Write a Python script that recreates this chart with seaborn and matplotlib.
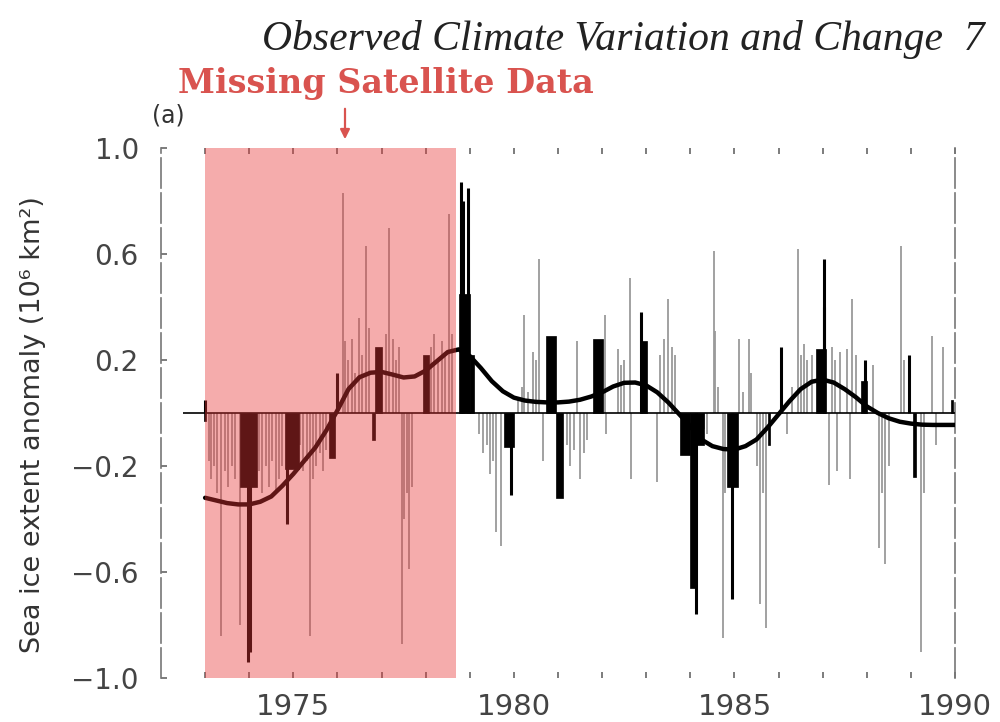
import numpy as np
import matplotlib
matplotlib.use("Agg")
import matplotlib.pyplot as plt
from matplotlib.ticker import FixedLocator
import seaborn as sns

# ---------------- data ----------------
# thin grey anomaly lines (decimal year, anomaly 10^6 km^2)
thin_years = [1973.08, 1973.14, 1973.20, 1973.28, 1973.37, 1973.45, 1973.52, 1973.60, 1973.68, 1973.79,
              1974.22, 1974.30, 1974.38, 1974.45, 1974.52, 1974.60, 1974.68, 1974.75,
              1975.15, 1975.22, 1975.30, 1975.38, 1975.45, 1975.52, 1975.60, 1975.68, 1975.75,
              1976.12, 1976.18, 1976.25, 1976.33, 1976.40, 1976.48, 1976.56, 1976.64, 1976.71,
              1977.09, 1977.17, 1977.25, 1977.33, 1977.40, 1977.47, 1977.52, 1977.58, 1977.62, 1977.70,
              1978.12, 1978.20, 1978.28, 1978.36, 1978.44, 1978.54, 1978.60,
              1979.22, 1979.30, 1979.38, 1979.45, 1979.52, 1979.60, 1979.70,
              1980.10, 1980.18, 1980.24, 1980.32, 1980.43, 1980.50, 1980.57, 1980.66,
              1981.20, 1981.28, 1981.36, 1981.42, 1981.50, 1981.58, 1981.65,
              1982.06, 1982.08, 1982.35, 1982.42, 1982.50, 1982.63, 1982.65,
              1983.24, 1983.32, 1983.40, 1983.50, 1983.58, 1983.65,
              1984.30, 1984.38, 1984.53, 1984.56, 1984.62, 1984.73, 1984.78,
              1985.10, 1985.20, 1985.33, 1985.38, 1985.50, 1985.58, 1985.65, 1985.72,
              1986.20, 1986.30, 1986.43, 1986.50, 1986.58, 1986.65, 1986.75,
              1987.15, 1987.22, 1987.28, 1987.33, 1987.40, 1987.55, 1987.62, 1987.66, 1987.75,
              1988.14, 1988.28, 1988.35, 1988.42, 1988.50, 1988.78, 1988.85,
              1989.24, 1989.30, 1989.47, 1989.58, 1989.73]
thin_anom = [-0.18, -0.25, -0.20, -0.30, -0.84, -0.22, -0.28, -0.20, -0.25, -0.80,
             -0.22, -0.30, -0.20, -0.28, -0.18, -0.30, -0.25, -0.20,
             -0.12, -0.22, -0.18, -0.84, -0.25, -0.20, -0.15, -0.22, -0.14,
             0.83, 0.27, 0.20, 0.28, 0.15, 0.36, 0.22, 0.63, 0.32,
             0.30, 0.70, 0.28, 0.20, 0.25, -0.87, -0.40, -0.30, -0.59, -0.28,
             0.25, 0.30, 0.20, 0.27, 0.22, 0.75, 0.30,
             -0.08, -0.15, -0.12, -0.23, -0.18, -0.45, -0.50,
             0.05, 0.10, 0.37, 0.08, 0.23, 0.20, 0.58, -0.18,
             -0.12, -0.20, -0.14, 0.27, -0.25, -0.15, -0.10,
             0.37, -0.08, 0.24, 0.18, 0.20, 0.51, -0.25,
             -0.26, 0.22, 0.28, 0.43, 0.25, 0.22,
             -0.06, -0.08, 0.61, 0.31, 0.10, -0.85, -0.30,
             0.28, 0.08, 0.28, 0.15, -0.20, -0.72, -0.30, -0.81,
             -0.08, 0.10, 0.62, 0.22, 0.26, 0.20, 0.22,
             -0.27, 0.25, 0.20, -0.22, 0.23, 0.24, -0.25, 0.43, 0.22,
             0.18, -0.51, -0.30, -0.57, -0.20, 0.63, 0.20,
             -0.90, -0.30, 0.29, -0.12, 0.25]

# solid black anomaly blocks (start year, end year, anomaly)
block_start = [1972.97, 1973.79, 1974.82, 1975.80, 1976.79, 1976.86, 1977.93, 1978.76, 1979.00,
               1979.78, 1980.73, 1980.96, 1981.80, 1982.86, 1983.77, 1984.00, 1984.15,
               1984.84, 1985.75, 1986.85, 1987.87, 1989.05, 1989.90]
block_end = [1973.03, 1974.17, 1975.12, 1975.95, 1976.86, 1977.02, 1978.08, 1979.00, 1979.10,
             1980.01, 1980.96, 1981.11, 1982.03, 1983.01, 1984.00, 1984.15, 1984.30,
             1985.07, 1985.80, 1987.07, 1988.00, 1989.12, 1989.95]
block_anom = [-0.03, -0.28, -0.21, -0.17, -0.10, 0.25, 0.22, 0.45, 0.22,
              -0.13, 0.29, -0.32, 0.28, 0.27, -0.16, -0.66, -0.12,
              -0.28, -0.12, 0.24, 0.12, -0.24, 0.05]

# isolated black peaks
peak_years = [1973.00, 1973.98, 1974.02, 1974.85, 1976.00, 1978.80, 1978.85, 1978.97, 1979.94,
              1982.88, 1984.12, 1984.95, 1986.05, 1987.02, 1987.04, 1987.95, 1988.95]
peak_anom = [0.05, -0.94, -0.90, -0.42, 0.15, 0.87, 0.80, 0.85, -0.31,
             0.38, -0.76, -0.70, 0.25, 0.40, 0.58, 0.20, 0.22]

# smoothed curve, quarterly
curve_years = np.arange(1973.0, 1990.01, 0.25)
curve_anom = [-0.32, -0.33, -0.34, -0.345, -0.345, -0.335, -0.315, -0.275,
              -0.23, -0.18, -0.13, -0.065, 0.01, 0.09, 0.135, 0.152,
              0.155, 0.145, 0.134, 0.138, 0.16, 0.195, 0.23, 0.24,
              0.215, 0.17, 0.12, 0.082, 0.058, 0.047, 0.042, 0.04,
              0.04, 0.043, 0.05, 0.062, 0.078, 0.10, 0.114, 0.115,
              0.104, 0.078, 0.04, -0.005, -0.05, -0.10, -0.125, -0.136,
              -0.138, -0.125, -0.10, -0.055, -0.005, 0.045, 0.09, 0.118,
              0.126, 0.115, 0.09, 0.06, 0.025, 0.0, -0.02, -0.033,
              -0.04, -0.044, -0.045, -0.045, -0.045]

missing_span = [1973.0, 1978.68]
ytick_vals = [1.0, 0.6, 0.2, -0.2, -0.6, -1.0]
ytick_text = ["1.0", "0.6", "0.2", "\u22120.2", "\u22120.6", "\u22121.0"]
xtick_vals = [1975, 1980, 1985, 1990]
xtick_text = ["1975", "1980", "1985", "1990"]

# ---------------- figure ----------------
sns.set_style("white")
plt.rcParams["font.family"] = ["DejaVu Sans"]

fig = plt.figure(figsize=(10, 7.22), dpi=100)
ax = fig.add_axes([0.161, 1 - 678 / 722, 0.794, 530 / 722])

ax.vlines(thin_years, 0, thin_anom, color="#9a9a9a", lw=1.3, zorder=2)
ax.bar(block_start, block_anom, width=np.array(block_end) - np.array(block_start),
       align="edge", color="black", edgecolor="black", lw=0.5, zorder=3)
ax.vlines(peak_years, 0, peak_anom, color="black", lw=2.2, zorder=3)
ax.hlines(0, 1972.5, 1990, color="black", lw=1.2, zorder=3)
sns.lineplot(x=curve_years, y=curve_anom, ax=ax, color="black", lw=3.2, zorder=4)

ax.axvspan(missing_span[0], missing_span[1], ymin=0, ymax=1,
           color=(232 / 255, 54 / 255, 54 / 255), alpha=0.41, lw=0, zorder=6)

ax.set_xlim(1972, 1990)
ax.set_ylim(-1.0, 1.0)
ax.set_xticks(xtick_vals)
ax.set_xticklabels(xtick_text)
ax.xaxis.set_minor_locator(FixedLocator(np.arange(1973, 1990)))
ax.set_yticks(ytick_vals)
ax.set_yticklabels(ytick_text)

for s in ["top", "bottom"]:
    ax.spines[s].set_visible(False)
for s in ["left", "right"]:
    ax.spines[s].set_color("#777777")
    ax.spines[s].set_linewidth(1.2)
    ax.spines[s].set_linestyle((0, (18, 3)))

ax.tick_params(axis="x", which="both", direction="in", top=True, bottom=True,
               length=4, width=1.2, color="#666666", pad=11,
               labelsize=21, labelcolor="#444444")
ax.tick_params(axis="y", which="both", direction="in", left=True, right=False,
               length=4, width=1.2, color="#666666", pad=16,
               labelsize=20, labelcolor="#444444")
ax.set_xlabel("")
ax.set_ylabel("")

fig.text(0.033, 1 - 425 / 722, "Sea ice extent anomaly (10\u2076 km\u00b2)",
         rotation=90, ha="center", va="center", fontsize=19.5, color="#333333")
fig.text(0.985, 1 - 50 / 722, "Observed Climate Variation and Change  7",
         ha="right", va="baseline", fontsize=30, style="italic",
         family=["Liberation Serif", "DejaVu Serif"], color="#222222")
fig.text(0.178, 1 - 93 / 722, "Missing Satellite Data", ha="left", va="baseline",
         fontsize=24, weight="bold", family=["DejaVu Serif"], color="#d9534f")
fig.text(0.152, 1 - 122 / 722, "(a)", ha="left", va="baseline",
         fontsize=17, color="#333333")
ax.annotate("", xy=(345, 722 - 142), xycoords="figure pixels",
            xytext=(345, 722 - 106), textcoords="figure pixels",
            arrowprops=dict(arrowstyle="-|>", color="#d9534f", lw=1.6,
                            mutation_scale=14))

fig.savefig("out.png", dpi=100)
